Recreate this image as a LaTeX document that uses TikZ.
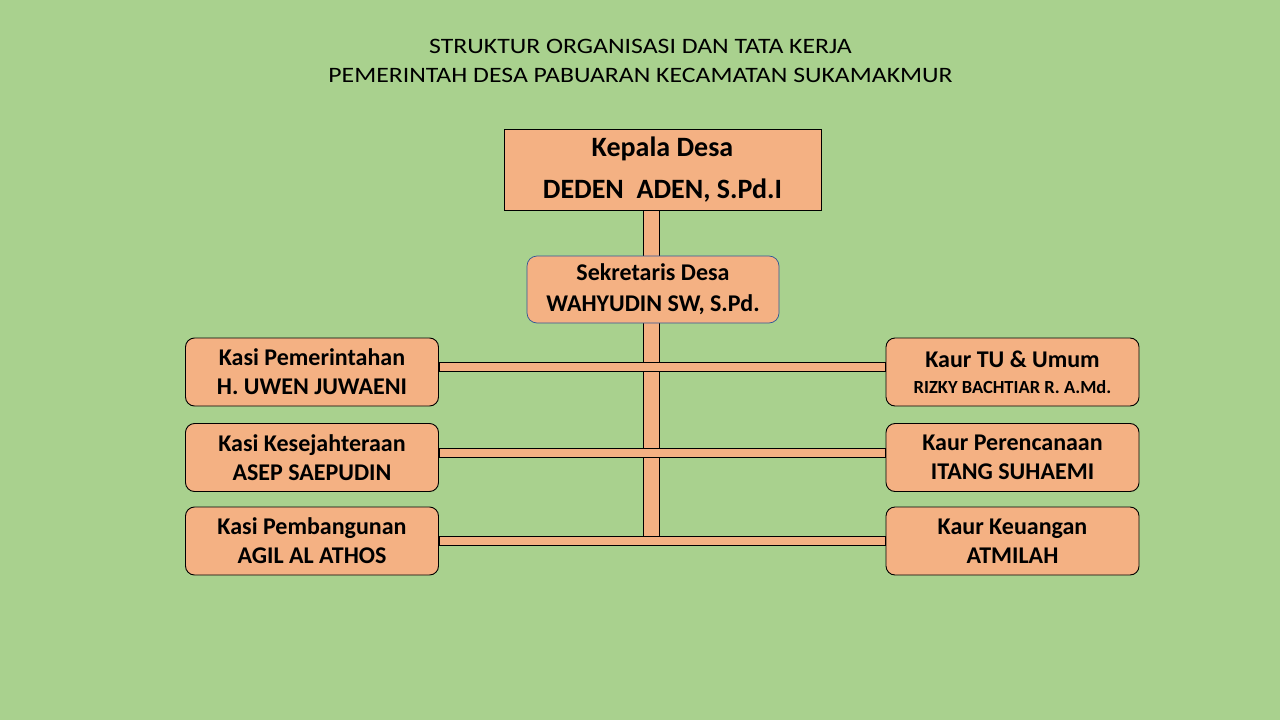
\documentclass[tikz,border=0pt]{standalone}
\usepackage{fontspec}
\setmainfont{Carlito}
\newfontfamily\titlefont[FakeStretch=1.17]{Carlito}
\usetikzlibrary{backgrounds}
\definecolor{bggreen}{HTML}{A9D18E}
\definecolor{peach}{HTML}{F4B183}
\definecolor{sekblue}{HTML}{2F5597}
\tikzset{
  box/.style={draw=black, line width=0.9pt, fill=peach, rounded corners=9pt, minimum width=253pt, minimum height=68pt,
    inner sep=0pt, align=center, font=\bfseries\fontsize{24}{29}\selectfont},
  bar/.style={draw=black, line width=0.9pt, fill=peach},
}
\begin{document}
\begin{tikzpicture}[x=1pt, y=-1pt]
    \useasboundingbox (0,0) rectangle (1280,720);

    \node[font=\titlefont\fontsize{22}{29}\selectfont, align=center] (judul) at (640.5,61)
        {STRUKTUR ORGANISASI DAN TATA KERJA\\PEMERINTAH DESA PABUARAN KECAMATAN SUKAMAKMUR};

    \node[box, rounded corners=0pt, minimum width=317pt, minimum height=81pt,
        font=\bfseries\fontsize{28}{42}\selectfont] (kades) at (662.5,169.5) {Kepala Desa\\DEDEN\ \ ADEN, S.Pd.I};
    \node[box, draw=sekblue, line width=0.7pt, rounded corners=10pt, minimum width=252pt, minimum height=67pt,
        font=\bfseries\fontsize{24}{31}\selectfont] (sekdes) at (653,289.5) {Sekretaris Desa\\WAHYUDIN SW, S.Pd.};

    \node[box] (kasi1) at (312,372) {Kasi Pemerintahan\\H. UWEN JUWAENI};
    \node[box] (kasi2) at (312,457.5) {Kasi Kesejahteraan\\ASEP SAEPUDIN};
    \node[box] (kasi3) at (312,541) {Kasi Pembangunan\\AGIL AL ATHOS};

    \node[box, font=\bfseries\fontsize{24}{26}\selectfont] (kaur1) at (1012.5,372)
        {Kaur TU \& Umum\\{\fontsize{18.5}{26}\selectfont RIZKY BACHTIAR R. A.Md.}};
    \node[box] (kaur2) at (1012.5,457.5) {Kaur Perencanaan\\ITANG SUHAEMI};
    \node[box] (kaur3) at (1012.5,541) {Kaur Keuangan\\ATMILAH};

    \begin{scope}[on background layer]
        \fill[bggreen] (0,0) rectangle (1280,720);
        \draw[bar] ([xshift=-19pt]kades.south) rectangle ([xshift=-3.5pt]kades.south |- kasi3.east);
        \draw[bar] ([yshift=9.4pt]kasi1.east) rectangle ([yshift=1pt]kaur1.west);
        \draw[bar] ([yshift=8.7pt]kasi2.east) rectangle ([yshift=0.3pt]kaur2.west);
        \draw[bar] ([yshift=4.5pt]kasi3.east) rectangle ([yshift=-4.5pt]kaur3.west);
    \end{scope}
\end{tikzpicture}
\end{document}
